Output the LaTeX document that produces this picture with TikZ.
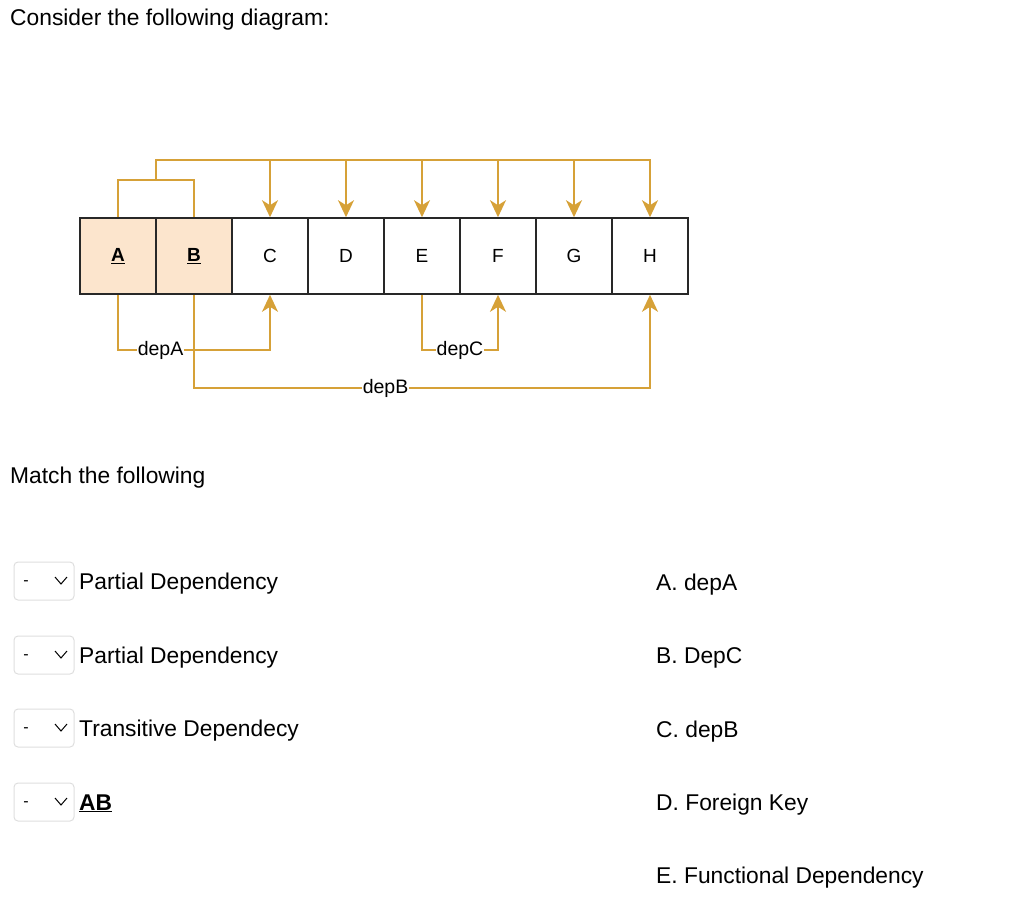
\documentclass[tikz,border=0pt]{standalone}
\usepackage{fontspec}
\setmainfont{Liberation Sans}
\usetikzlibrary{positioning,arrows.meta}
\definecolor{depgold}{RGB}{214,161,56}
\definecolor{keyfill}{RGB}{252,229,205}
\definecolor{cellline}{RGB}{40,40,40}
\definecolor{selline}{RGB}{222,222,222}

\begin{document}
\begin{tikzpicture}[x=1pt,y=-1pt,
  >={Stealth[length=17pt,width=16pt,inset=5pt]},
  cell/.style={draw=cellline,line width=1.6pt,minimum width=76pt,minimum height=76pt,inner sep=0pt,font=\fontsize{19}{22}\selectfont},
  keycell/.style={cell,fill=keyfill,font=\fontsize{19}{22}\selectfont\bfseries},
  dep/.style={draw=depgold,line width=1.8pt},
  lbl/.style={fill=white,inner sep=1pt,font=\fontsize{19.5}{22}\selectfont},
  txt/.style={anchor=base west,inner sep=0pt,font=\fontsize{22.8}{27}\selectfont},
  sel/.style={draw=selline,line width=1pt,rounded corners=4pt,minimum width=60pt,minimum height=38pt,inner sep=0pt},
]
\useasboundingbox (0,0) rectangle (1024,906);
% page text
\node[txt] (intro) at (10,25) {Consider the following diagram:};
\node[txt] (match) at (10,483) {Match the following};
% relation cells
\node[keycell] (colA) at (118,256) {\underline{A}};
\node[keycell] (colB) at (194,256) {\underline{B}};
\foreach \l [count=\i from 2] in {C,D,E,F,G,H}
  \node[cell] (col\l) at (118+76*\i,256) {\l};
% key AB determines everything
\coordinate (keymid) at (156,180);
\coordinate (keytop) at (156,160);
\draw[dep] (colA.north) |- (keymid) -| (colB.north);
\draw[dep,->] (keymid) -- (keytop) -| (colH.north);
\foreach \l in {C,D,E,F,G}
  \draw[dep,->] (col\l.north |- keytop) -- (col\l.north);
% dependencies below
\coordinate (lowrow) at (0,350);
\coordinate (lowrowB) at (0,388);
\draw[dep,->] (colB.south) |- node[lbl,pos=0.71]{depB} (colH.south |- lowrowB) -- (colH.south);
\draw[dep,->] (colA.south) |- node[lbl,pos=0.64]{depA} (colC.south |- lowrow) -- (colC.south);
\draw[dep,->] (colE.south) |- node[lbl,pos=0.75]{depC} (colF.south |- lowrow) -- (colF.south);
% drop-down choices
\foreach \y/\t [count=\i] in {581/Partial Dependency, 655/Partial Dependency, 728/Transitive Dependecy, 802/{\bfseries\underline{AB}}}{
  \node[sel] (sel\i) at (44,\y) {};
  \node[font=\fontsize{16}{18}\selectfont,inner sep=0pt] (dash\i) at (26,\y+2) {-};
  \draw[line width=1pt] (sel\i.center) ++(11,-4) -- ++(6,7) -- ++(6,-7);
  \node[txt] (opt\i) at (79,\y+8) {\t};
}
% answers
\foreach \y/\t [count=\i] in {590/A. depA, 663/B. DepC, 737/C. depB, 810/D. Foreign Key, 883/E. Functional Dependency}
  \node[txt] (ans\i) at (656,\y) {\t};
\end{tikzpicture}
\end{document}
